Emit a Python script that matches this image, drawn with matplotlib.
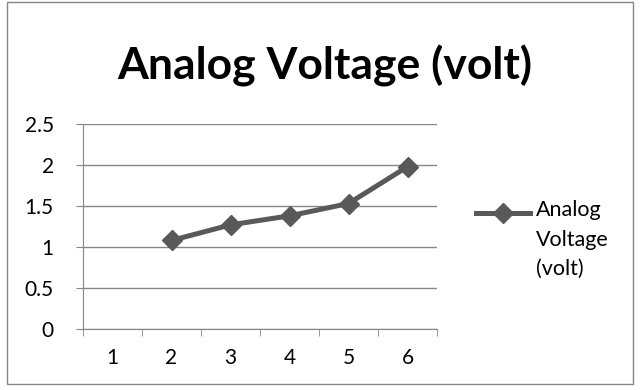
import numpy as np
import matplotlib.pyplot as plt
from matplotlib.lines import Line2D
from matplotlib.patches import Rectangle

# Chart data
categories = [1, 2, 3, 4, 5, 6]
voltage = [np.nan, 1.08, 1.27, 1.38, 1.53, 1.98]
series_name = "Analog Voltage (volt)"
legend_label = "Analog\nVoltage\n(volt)"
y_ticks = [0, 0.5, 1, 1.5, 2, 2.5]
y_labels = ["0", "0.5", "1", "1.5", "2", "2.5"]

plt.rcParams['font.family'] = ['Lato', 'DejaVu Sans']

fig = plt.figure(figsize=(6.4, 3.9), dpi=100)
ax = fig.add_axes([83/640, 1-329/390, (437-83)/640, (329-124)/390])

# Outer chart border
fig.patches.append(Rectangle((7/640, 6/390), 626/640, 382/390, transform=fig.transFigure,
                             fill=False, edgecolor='#868686', lw=1))

line_color = '#595959'
line_style = dict(color=line_color, lw=3.6, marker='D', markersize=10.5,
                  markeredgecolor=line_color, markerfacecolor=line_color)
ax.plot(categories, voltage, zorder=3, clip_on=False, **line_style)

# Axes setup
ax.set_xlim(0.5, 6.5)
ax.set_ylim(0, 2.5)
ax.set_yticks(y_ticks)
ax.set_yticklabels(y_labels, fontsize=15)
ax.set_xticks(categories)
ax.set_xticklabels([str(c) for c in categories], fontsize=15)
ax.set_xticks(np.arange(0.5, 7, 1), minor=True)
ax.tick_params(axis='x', which='major', length=0, pad=14)
ax.tick_params(axis='x', which='minor', length=5, color='#868686', direction='out')
ax.tick_params(axis='y', length=5, color='#868686', direction='out', pad=16)
ax.grid(axis='y', color='#868686', lw=1)
ax.set_axisbelow(True)
for side in ['top', 'right']:
    ax.spines[side].set_visible(False)
for side in ['left', 'bottom']:
    ax.spines[side].set_color('#868686')

# Title
fig.text(325/640, 1-66/390, series_name, ha='center', va='center', fontsize=32, fontweight='bold')

# Legend (Excel style: key aligned with the first text line)
key = Line2D([476/640, 503/640, 530/640], [1-213/390]*3, transform=fig.transFigure,
             markevery=[1], **line_style)
fig.lines.append(key)
fig.text(536/640, 1-200/390, legend_label, ha='left', va='top', fontsize=15.5, linespacing=1.6)

fig.savefig("out.png", dpi=100)
